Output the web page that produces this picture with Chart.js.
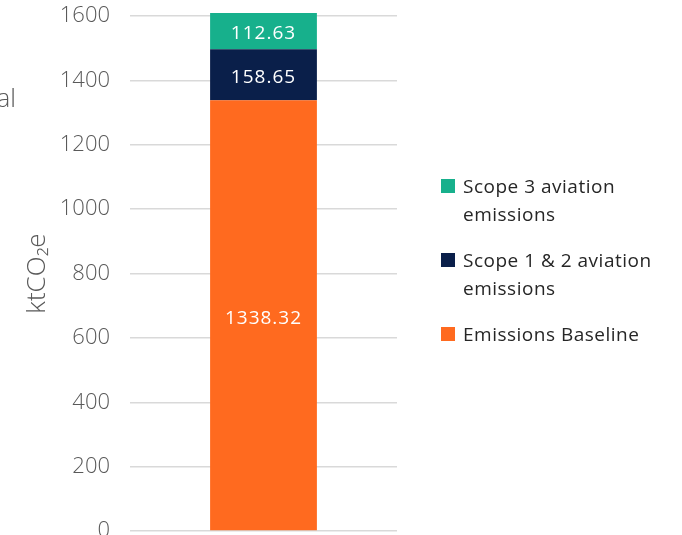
<!DOCTYPE html>
<html>
<head>
<meta charset="utf-8">
<script src="https://cdn.jsdelivr.net/npm/chart.js@4/dist/chart.umd.min.js"></script>
<style>
  html, body { margin: 0; padding: 0; background: #fff; overflow: hidden; width: 682px; height: 535px; }
  #wrap { position: absolute; left: 0; top: 0; width: 682px; height: 560px; }
  #cut { position: absolute; left: -3px; top: 80px; font: 300 25px "Open Sans", sans-serif; color: #595959; }
  #legend { position: absolute; left: 441px; top: 172px; font: 19px "Open Sans", sans-serif; color: #262626; letter-spacing: 0.5px; }
  .item { position: relative; padding-left: 22px; line-height: 28px; margin-bottom: 18px; }
  .item span { position: absolute; left: 0; top: 7px; width: 14px; height: 14px; }
</style>
</head>
<body>
<div id="wrap"><canvas id="emisiChart" width="682" height="560"></canvas></div>
<div id="cut">al</div>
<div id="legend"></div>
<script>
// Data dari grafik
var kategori = ['Total'];
var baseline = [1338.32];
var scope12 = [158.65];
var scope3 = [112.63];
var tickY = [0, 200, 400, 600, 800, 1000, 1200, 1400, 1600];

var seri = [
  { label: 'Emissions Baseline', data: baseline, color: '#FF6A1F', legend: ['Emissions Baseline'] },
  { label: 'Scope 1 & 2 aviation emissions', data: scope12, color: '#0A1F4A', legend: ['Scope 1 & 2 aviation', 'emissions'] },
  { label: 'Scope 3 aviation emissions', data: scope3, color: '#17B08C', legend: ['Scope 3 aviation', 'emissions'] }
];

// Legend manual (urutan terbalik seperti aslinya)
var leg = document.getElementById('legend');
seri.slice().reverse().forEach(function (s) {
  var d = document.createElement('div');
  d.className = 'item';
  d.innerHTML = '<span style="background:' + s.color + '"></span>' + s.legend.join('<br>');
  leg.appendChild(d);
});

// Plugin kecil untuk label nilai di tengah batang
var labelNilai = {
  id: 'labelNilai',
  afterDatasetsDraw: function (chart) {
    var ctx = chart.ctx;
    ctx.save();
    ctx.fillStyle = '#ffffff';
    ctx.font = '19px "Open Sans", sans-serif';
    ctx.letterSpacing = '1px';
    ctx.textAlign = 'center';
    ctx.textBaseline = 'middle';
    chart.data.datasets.forEach(function (ds, i) {
      chart.getDatasetMeta(i).data.forEach(function (bar, j) {
        var y = (bar.y + bar.base) / 2 + 3;
        ctx.fillText(ds.data[j].toFixed(2), bar.x, y);
      });
    });
    ctx.restore();
  }
};

var ctx = document.getElementById('emisiChart').getContext('2d');
var myChart = new Chart(ctx, {
  type: 'bar',
  data: {
    labels: kategori,
    datasets: seri.map(function (s) {
      return {
        label: s.label,
        data: s.data,
        backgroundColor: s.color,
        borderWidth: 0,
        barPercentage: 0.4,
        categoryPercentage: 1,
        clip: false
      };
    })
  },
  options: {
    responsive: false,
    animation: false,
    layout: { padding: { left: 20, top: 16, right: 285, bottom: 29 } },
    plugins: { legend: { display: false }, tooltip: { enabled: false } },
    scales: {
      x: { stacked: true, display: false },
      y: {
        stacked: true,
        min: 0,
        max: 1600,
        afterBuildTicks: function (sc) { sc.ticks = tickY.map(function (v) { return { value: v }; }); },
        afterFit: function (sc) { sc.width = 110; sc.paddingTop = 0; sc.paddingBottom = 0; },
        border: { display: false },
        grid: { color: '#d9d9d9', lineWidth: 1.5, drawTicks: false },
        ticks: {
          color: '#595959',
          padding: 20,
          font: { family: 'Open Sans', size: 22, weight: '300' },
          callback: function (v) { return String(v); }
        },
        title: {
          display: true,
          text: 'ktCO\u2082e',
          color: '#595959',
          padding: { top: 2, bottom: 0 },
          font: { family: 'Open Sans', size: 26, weight: '300' }
        }
      }
    }
  },
  plugins: [labelNilai]
});
</script>
</body>
</html>
